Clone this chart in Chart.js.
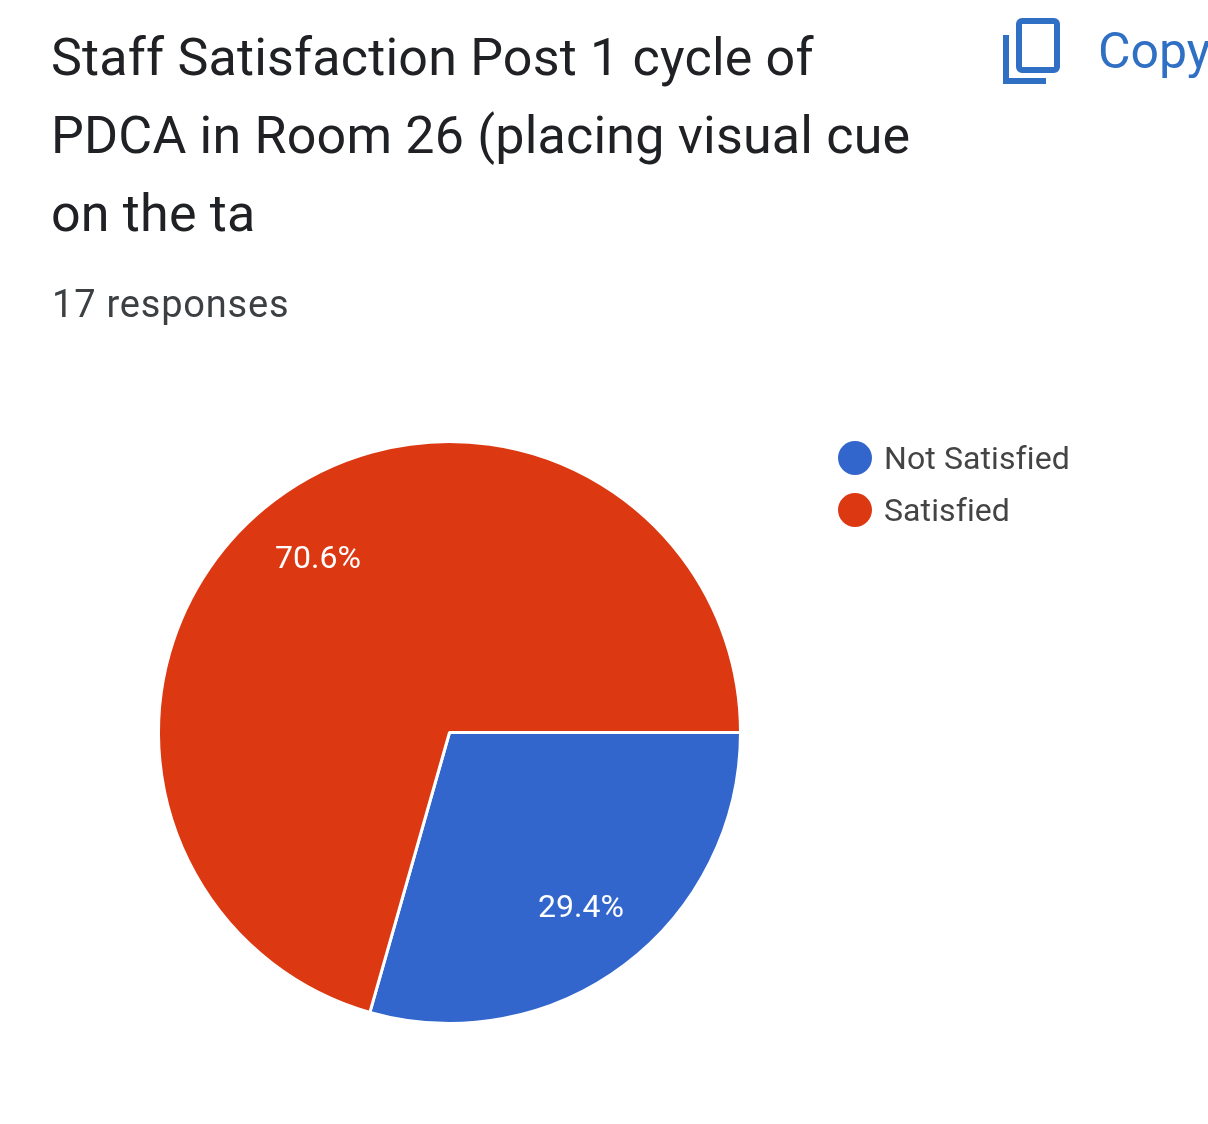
<!DOCTYPE html>
<html>
<head>
<meta charset="utf-8">
<title>Staff Satisfaction</title>
<script src="https://cdn.jsdelivr.net/npm/chart.js@4"></script>
<style>
  html, body { margin: 0; padding: 0; background: #fff; overflow: hidden; }
  body { width: 1208px; height: 1124px; position: relative; font-family: Roboto, sans-serif; }
  #chartWrap { position: absolute; left: 0; top: 0; width: 1208px; height: 1124px; }
  .title { position: absolute; left: 51px; top: 19px; margin: 0; font-size: 52px; font-weight: 400; line-height: 78px; letter-spacing: 0.2px; color: #202124; white-space: nowrap; }
  .responses { position: absolute; left: 52px; top: 282px; font-size: 38px; line-height: 44px; letter-spacing: 0.8px; color: #3c4043; }
  .copy { position: absolute; left: 1098px; top: 24px; width: 110px; overflow: hidden; font-size: 50px; line-height: 54px; color: #2f6fc4; }
  .copy-icon { position: absolute; left: 1000px; top: 15px; }
  #legend { position: absolute; left: 838px; top: 432px; }
  .legend-row { display: flex; align-items: center; height: 52px; font-size: 32px; letter-spacing: 0.1px; color: #444; }
  .legend-dot { width: 34px; height: 34px; border-radius: 50%; margin-right: 12px; }
</style>
</head>
<body>
<div id="chartWrap"><canvas id="pieChart"></canvas></div>
<h1 class="title">Staff Satisfaction Post 1 cycle of<br>PDCA in Room 26 (placing visual cue<br>on the ta</h1>
<div class="responses">17 responses</div>
<svg class="copy-icon" width="64" height="72" viewBox="0 0 64 72" fill="none" stroke="#2f6fc4" stroke-width="6">
  <path d="M6 20 V66 H46"/>
  <rect x="19" y="6" width="38" height="49" rx="3"/>
</svg>
<div class="copy">Copy</div>
<div id="legend"></div>

<script>
// Survey answers
const labels = ['Not Satisfied', 'Satisfied'];
const responses = [5, 12];
const sliceColors = ['#3366cc', '#dc3912'];

// Percent text on top of each slice, at 3/4 of the radius
const sliceLabels = {
  id: 'sliceLabels',
  afterDatasetsDraw(chart) {
    const ctx = chart.ctx;
    const total = responses.reduce((a, b) => a + b, 0);
    ctx.save();
    ctx.font = '32px Roboto, sans-serif';
    ctx.fillStyle = '#ffffff';
    ctx.textAlign = 'center';
    ctx.textBaseline = 'middle';
    chart.getDatasetMeta(0).data.forEach((arc, i) => {
      const mid = (arc.startAngle + arc.endAngle) / 2;
      const r = arc.outerRadius * 0.75;
      const text = (responses[i] / total * 100).toFixed(1) + '%';
      ctx.fillText(text, arc.x + Math.cos(mid) * r, arc.y + Math.sin(mid) * r + 2);
    });
    ctx.restore();
  }
};

new Chart(document.getElementById('pieChart'), {
  type: 'pie',
  data: {
    labels,
    datasets: [{
      data: responses,
      backgroundColor: sliceColors,
      borderColor: '#ffffff',
      borderWidth: 3
    }]
  },
  options: {
    responsive: true,
    maintainAspectRatio: false,
    animation: false,
    rotation: 90,
    layout: { padding: { left: 157, right: 466, top: 440, bottom: 99 } },
    plugins: { legend: { display: false }, tooltip: { enabled: false } }
  },
  plugins: [sliceLabels]
});

// Legend
const legend = document.getElementById('legend');
labels.forEach((name, i) => {
  const row = document.createElement('div');
  row.className = 'legend-row';
  row.innerHTML = `<span class="legend-dot" style="background:${sliceColors[i]}"></span>${name}`;
  legend.appendChild(row);
});
</script>
</body>
</html>
